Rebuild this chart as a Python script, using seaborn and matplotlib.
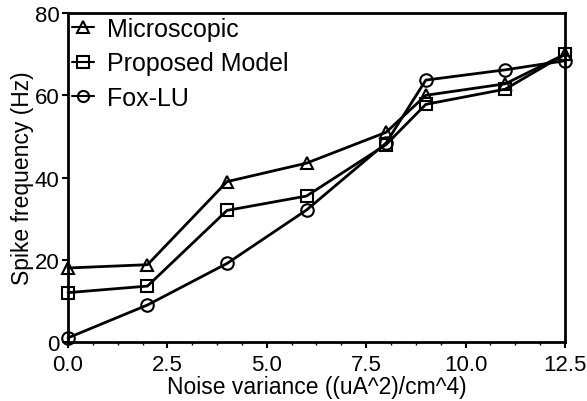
import matplotlib
matplotlib.use("Agg")
import matplotlib.pyplot as plt
from matplotlib.ticker import MultipleLocator, FormatStrFormatter
import seaborn as sns
import pandas as pd

noise_variance = [0.0, 2.0, 4.0, 6.0, 8.0, 9.0, 11.0, 12.5]
microscopic = [18.0, 18.8, 39.0, 43.5, 51.0, 60.0, 62.8, 70.0]
proposed_model = [12.0, 13.6, 32.0, 35.5, 48.0, 57.8, 61.5, 70.0]
fox_lu = [1.0, 9.0, 19.1, 32.1, 48.4, 63.7, 66.2, 68.4]

series_names = ["Microscopic", "Proposed Model", "Fox-LU"]
series_markers = ["^", "s", "o"]

frames = []
for name, vals in zip(series_names, [microscopic, proposed_model, fox_lu]):
    frames.append(pd.DataFrame({"x": noise_variance, "y": vals, "series": name}))
df = pd.concat(frames, ignore_index=True)

sns.set_style("ticks")
plt.rcParams["font.family"] = ["Liberation Sans", "DejaVu Sans"]
plt.rcParams.update({
    "text.color": "black",
    "axes.labelcolor": "black",
    "xtick.color": "black",
    "ytick.color": "black",
    "axes.edgecolor": "black",
})

fig = plt.figure(figsize=(5.87, 4.02), dpi=100)
ax = fig.add_axes([0.1158, 0.1468, 0.8467, 0.8182])

sns.lineplot(
    data=df, x="x", y="y", style="series", markers=dict(zip(series_names, series_markers)),
    dashes=False, color="black", linewidth=2.0, markersize=9, markerfacecolor="none",
    markeredgecolor="black", markeredgewidth=1.5, ax=ax, legend=True, sort=False,
)
for line in ax.lines:
    line.set_clip_on(False)
    line.set_zorder(5)

ax.set_xlim(0, 12.5)
ax.set_ylim(0, 80)
ax.xaxis.set_major_locator(MultipleLocator(2.5))
ax.xaxis.set_minor_locator(MultipleLocator(0.625))
ax.yaxis.set_major_locator(MultipleLocator(20))
ax.xaxis.set_major_formatter(FormatStrFormatter("%.1f"))

for s in ax.spines.values():
    s.set_linewidth(2.0)
    s.set_color("black")

ax.tick_params(axis="both", which="major", labelsize=16, width=1.5, length=4,
               color="black", labelcolor="black", pad=2)
ax.tick_params(axis="x", which="major", pad=4.5)
ax.tick_params(axis="x", which="minor", width=1.0, length=2, color="black")

ax.set_xlabel("Noise variance ((uA^2)/cm^4)", fontsize=16.5, labelpad=0, color="black")
ax.set_ylabel("Spike frequency (Hz)", fontsize=16.5, labelpad=1, color="black")

leg = ax.legend(loc="upper left", frameon=False, fontsize=18, handlelength=0.9,
                handletextpad=0.5, borderaxespad=0.0, borderpad=0.15, labelspacing=0.42,
                bbox_to_anchor=(0.0, 1.0))
for text in leg.get_texts():
    text.set_color("black")
for h in leg.legend_handles:
    h.set_color("black")
    h.set_markerfacecolor("none")
    h.set_markeredgecolor("black")
    h.set_linewidth(1.5)
    h.set_markersize(8)

fig.savefig("out.png", dpi=100)
